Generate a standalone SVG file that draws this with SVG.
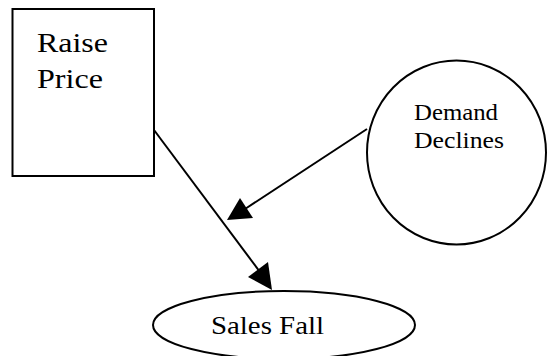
<svg xmlns="http://www.w3.org/2000/svg" width="548" height="356" viewBox="0 0 548 356">
<style>
.shape{fill:#fff;stroke:#000;stroke-width:2}
.lbl{font-family:"Liberation Serif","Times New Roman",serif;fill:#000}
.conn{stroke:#000;stroke-width:2;fill:none}
.head{fill:#000;stroke:none}
</style>
<rect width="548" height="356" fill="#fff"/>
<g id="raise-price">
<rect class="shape" x="12.5" y="9" width="141.5" height="167"/>
<text class="lbl" x="37" y="52" font-size="28" textLength="71" lengthAdjust="spacingAndGlyphs">Raise</text>
<text class="lbl" x="37" y="88" font-size="28" textLength="66" lengthAdjust="spacingAndGlyphs">Price</text>
</g>
<g id="demand-declines">
<ellipse class="shape" cx="456.5" cy="152.5" rx="89.5" ry="92" stroke-width="1.6"/>
<text class="lbl" x="414" y="120" font-size="22.5" textLength="84" lengthAdjust="spacingAndGlyphs">Demand</text>
<text class="lbl" x="414" y="148" font-size="22.5" textLength="90" lengthAdjust="spacingAndGlyphs">Declines</text>
</g>
<g id="sales-fall">
<ellipse class="shape" cx="284" cy="325" rx="131" ry="34" stroke-width="1.6"/>
<text class="lbl" x="211" y="334" font-size="25" textLength="113" lengthAdjust="spacingAndGlyphs">Sales Fall</text>
</g>
<g id="connectors">
<line class="conn" x1="154" y1="130" x2="260" y2="272"/>
<polygon class="head" points="272,290 248,277 268,262"/>
<line class="conn" x1="367" y1="129" x2="245" y2="209"/>
<polygon class="head" points="227,220 240,198 253,218"/>
</g>
</svg>
